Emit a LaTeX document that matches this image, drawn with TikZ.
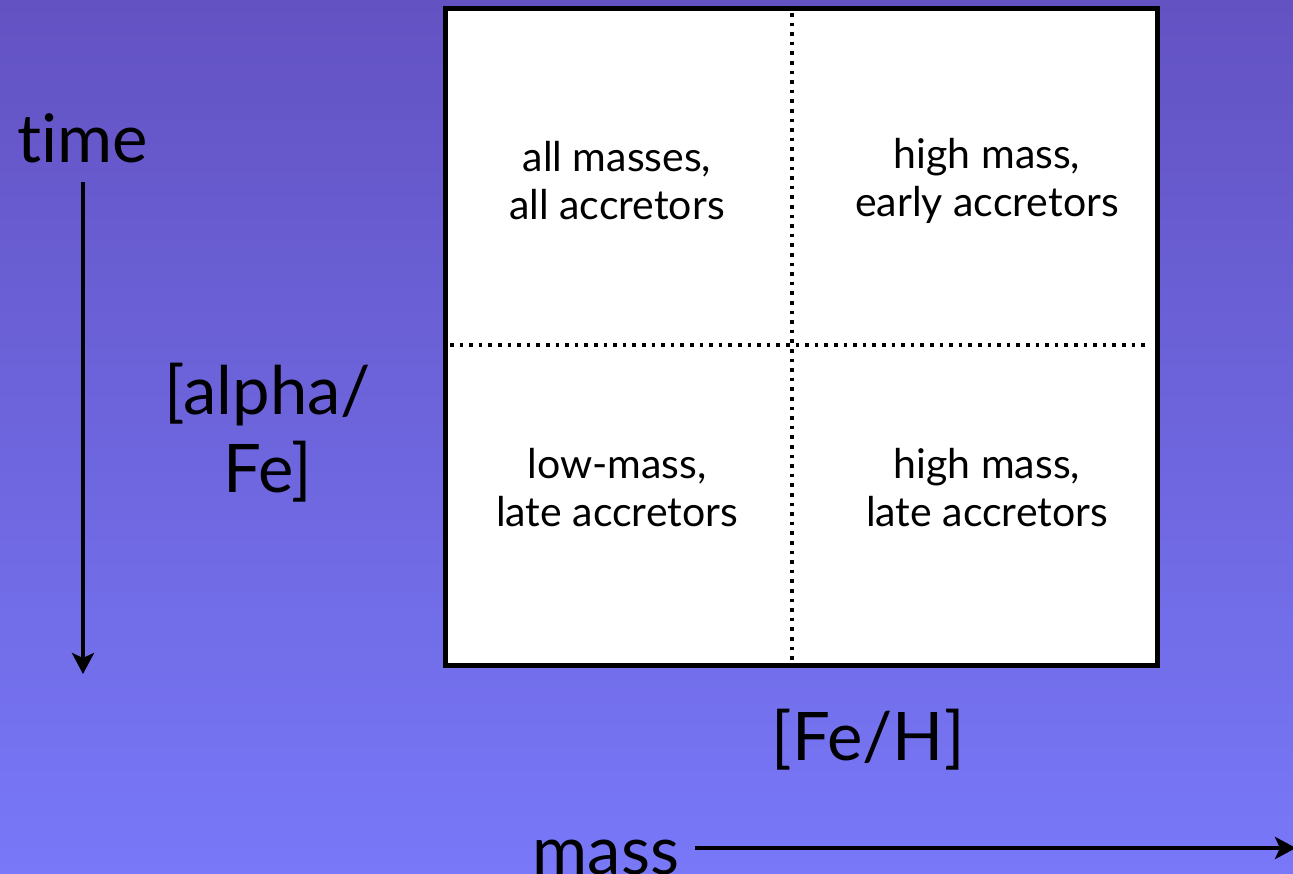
\documentclass[tikz,border=0pt]{standalone}
\usepackage{fontspec}
\setmainfont[Ligatures={NoCommon,NoRequired,NoContextual}]{Lato}
\usetikzlibrary{arrows.meta}
\definecolor{bgtop}{HTML}{6352C2}
\definecolor{bgbot}{HTML}{7878F8}
\tikzset{
  big/.style={font=\fontsize{67}{78}\selectfont, inner sep=0pt, align=center},
  quad/.style={font=\fontsize{41}{48}\selectfont, inner sep=0pt, align=center},
  dotline/.style={line width=3.6pt, dash pattern=on 3.6pt off 6pt},
  axisarrow/.style={line width=4pt, -{Stealth[length=21pt,width=22pt,inset=5pt]}}
}
\begin{document}
\begin{tikzpicture}[x=1pt,y=-1pt]
\useasboundingbox (0,0) rectangle (1293,874);
\shade[top color=bgtop, bottom color=bgbot] (0,0) rectangle (1293,874);
% box
\node[draw=black, line width=5pt, fill=white, minimum width=712pt, minimum height=657pt, inner sep=0pt] (box) at (801.5,337) {};
\coordinate (vtop) at (792,13);
\coordinate (vbot) at (792,660);
\coordinate (hl) at (450,345);
\coordinate (hr) at (1150,345);
\draw[dotline] (vtop) -- (vbot);
\draw[dotline] (hl) -- (hr);
% quadrant texts
\node[quad] (q1) at (617,181) {all masses,\\all accretors};
\node[quad] (q2) at (987,181) {high mass,\\early accretors};
\node[quad] (q3) at (617,488) {low-mass,\\late accretors};
\node[quad] (q4) at (987,488) {high mass,\\late accretors};
% axis labels
\node[big, anchor=base] (time) at (83,163) {time};
\coordinate (ttop) at (83,182);
\coordinate (tbot) at (83,674);
\draw[axisarrow] (ttop) -- (tbot);
\node[big] (alpha) at (268,433) {[alpha/\\Fe]};
\node[big, anchor=base] (feh) at (868,760) {[Fe/H]};
\node[big, anchor=base] (mass) at (606,874) {mass};
\coordinate (mstart) at (695,848);
\coordinate (mend) at (1296,848);
\draw[axisarrow] (mstart) -- (mend);
\end{tikzpicture}
\end{document}
